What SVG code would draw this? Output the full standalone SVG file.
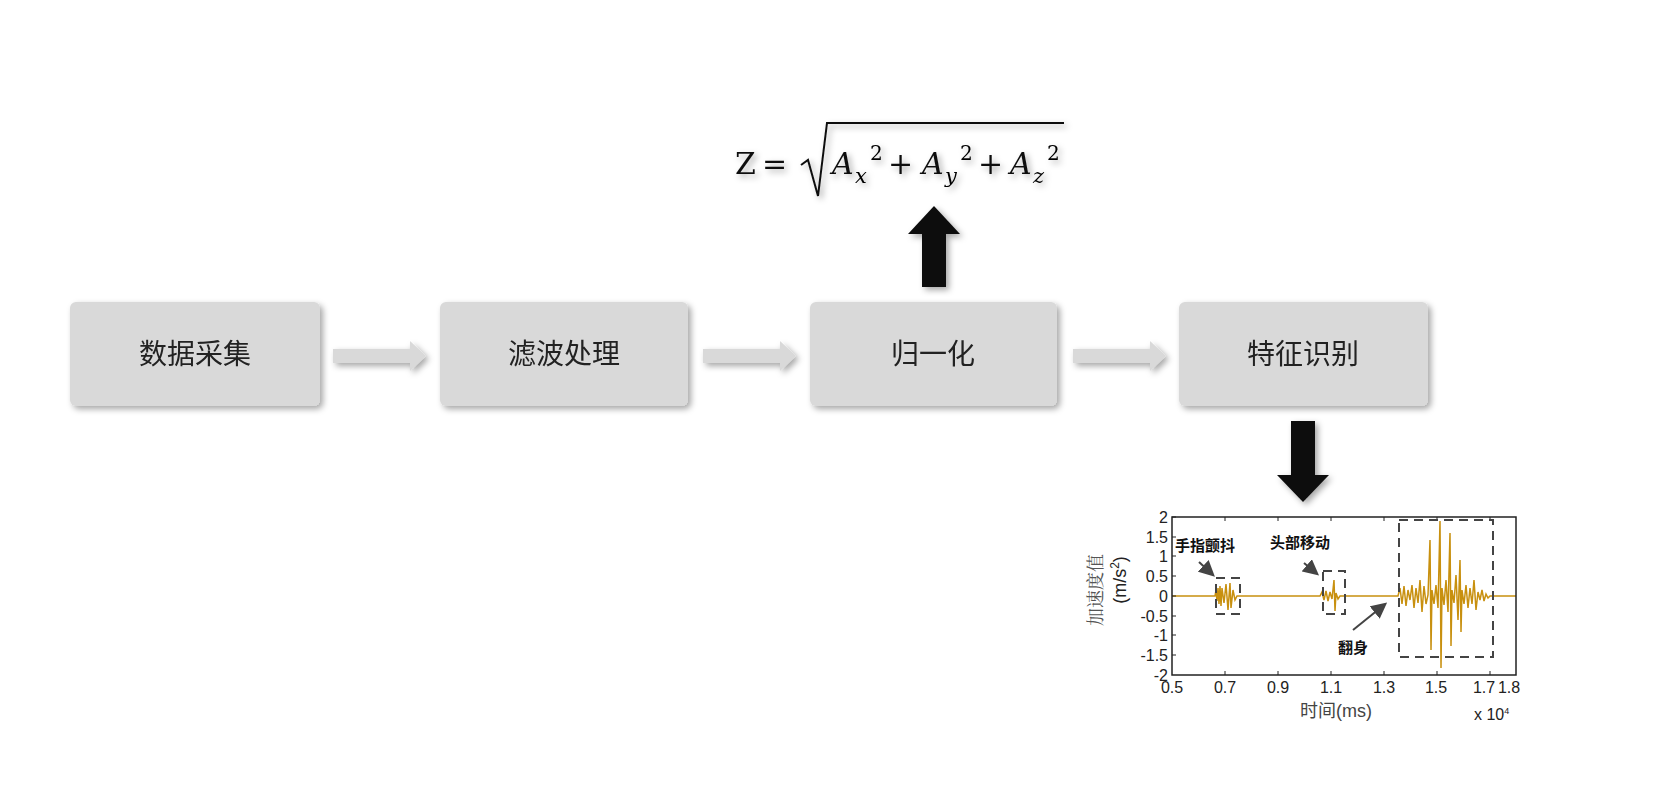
<svg xmlns="http://www.w3.org/2000/svg" width="1659" height="808" viewBox="0 0 1659 808">
<defs>
<style>
.box{fill:#d9d9d9}
.lbl{font-family:"Noto Sans CJK SC","Noto Sans",sans-serif;font-size:28px;fill:#222;text-anchor:middle}
.garrow{fill:#d9d9d9}
.tick{font-family:"Liberation Sans",Arial,sans-serif;font-size:16px;fill:#222}
.ann{font-family:"Noto Sans CJK SC",sans-serif;font-size:15px;font-weight:bold;fill:#111}
.dash{fill:none;stroke:#444;stroke-width:2;stroke-dasharray:9,6}
.sig{fill:none;stroke:#c8900f;stroke-width:1.5}
.math{font-family:"DejaVu Serif",serif;font-size:30px;fill:#111}
.it{font-style:italic}
.sup{font-size:20px}
.sub{font-size:21px;font-style:italic}
</style>
<filter id="sh" x="-10%" y="-10%" width="130%" height="140%"><feDropShadow dx="3" dy="3" stdDeviation="3" flood-color="#000" flood-opacity="0.35"/></filter>
<marker id="ah" markerWidth="8" markerHeight="8" refX="6" refY="4" orient="auto"><path d="M0,0 L8,4 L0,8 z" fill="#444"/></marker>
</defs>
<rect width="1659" height="808" fill="#fff"/>
<g id="n1" filter="url(#sh)"><rect class="box" x="70" y="302" width="250" height="104" rx="6"/><text class="lbl" x="195" y="364">数据采集</text></g>
<g id="n2" filter="url(#sh)"><rect class="box" x="440" y="302" width="248" height="104" rx="6"/><text class="lbl" x="564" y="364">滤波处理</text></g>
<g id="n3" filter="url(#sh)"><rect class="box" x="810" y="302" width="247" height="104" rx="6"/><text class="lbl" x="933" y="364">归一化</text></g>
<g id="n4" filter="url(#sh)"><rect class="box" x="1179" y="302" width="249" height="104" rx="6"/><text class="lbl" x="1303" y="364">特征识别</text></g>
<g id="connectors">
<g filter="url(#sh)">
<path class="garrow" d="M333,349 H410 V341 L426,356 L410,371 V363 H333 Z"/>
<path class="garrow" d="M703,349 H780 V341 L796,356 L780,371 V363 H703 Z"/>
<path class="garrow" d="M1073,349 H1150 V341 L1166,356 L1150,371 V363 H1073 Z"/>
<path fill="#111" d="M922,287 V234 H908 L934,206 L960,234 H946 V287 Z"/>
<path fill="#111" d="M1291,421 V475 H1277 L1303,502 L1329,475 H1315 V421 Z"/>
</g>
</g>
<g id="formula" filter="url(#sh)">
<text class="math" x="735" y="174">Z</text>
<text class="math" x="762" y="174">=</text>
<path d="M801,165 L808,160 L818,196 L827,123 H1064" fill="none" stroke="#111" stroke-width="2"/>
<text class="math it" x="832" y="174">A</text><text class="sub" x="855" y="183" font-family="DejaVu Serif,serif">x</text><text class="sup" x="870" y="160" font-family="DejaVu Serif,serif">2</text>
<text class="math" x="888" y="174">+</text>
<text class="math it" x="922" y="174">A</text><text class="sub" x="945" y="183" font-family="DejaVu Serif,serif">y</text><text class="sup" x="960" y="160" font-family="DejaVu Serif,serif">2</text>
<text class="math" x="978" y="174">+</text>
<text class="math it" x="1010" y="174">A</text><text class="sub" x="1033" y="183" font-family="DejaVu Serif,serif">z</text><text class="sup" x="1047" y="160" font-family="DejaVu Serif,serif">2</text>
</g>
<g id="chart">
<path class="sig" d="M1172,596 H1215 L1216,590 L1217,601 L1218,588 L1219,604 L1220,586 L1221,606 L1222,588 L1224,603 L1226,584 L1228,610 L1230,583 L1231,608 L1233,590 L1235,600 L1237,596 H1320 L1322,592 L1324,600 L1326,591 L1328,601 L1330,592 L1332,599 L1334,580 L1335,611 L1336,593 L1338,599 L1340,596 H1398 L1400,588 L1402,604 L1404,586 L1406,606 L1408,590 L1410,600 L1412,585 L1414,608 L1416,588 L1418,603 L1420,580 L1422,612 L1424,586 L1426,604 L1428,595 L1430,540 L1431,650 L1432,590 L1434,604 L1436,585 L1438,608 L1440,521 L1441,668 L1442,588 L1444,605 L1446,580 L1448,612 L1450,533 L1451,646 L1452,590 L1454,603 L1456,575 L1458,620 L1460,560 L1461,632 L1462,590 L1464,604 L1466,585 L1468,608 L1470,588 L1472,604 L1474,580 L1476,610 L1478,592 L1480,600 L1482,590 L1484,601 L1486,594 L1488,598 L1490,596 H1516"/>
<rect x="1172" y="517" width="344" height="158" fill="none" stroke="#222" stroke-width="1.5"/>
<g stroke="#222" stroke-width="1">
<path d="M1172,517 h4 M1172,537 h4 M1172,556 h4 M1172,576 h4 M1172,596 h4 M1172,616 h4 M1172,635 h4 M1172,655 h4"/>
<path d="M1225,675 v-4 M1278,675 v-4 M1331,675 v-4 M1384,675 v-4 M1437,675 v-4 M1490,675 v-4 M1225,517 v4 M1278,517 v4 M1331,517 v4 M1384,517 v4 M1437,517 v4 M1490,517 v4"/>
</g>
<g class="tick" text-anchor="end">
<text x="1168" y="523">2</text><text x="1168" y="543">1.5</text><text x="1168" y="562">1</text><text x="1168" y="582">0.5</text><text x="1168" y="602">0</text><text x="1168" y="622">-0.5</text><text x="1168" y="641">-1</text><text x="1168" y="661">-1.5</text><text x="1168" y="681">-2</text>
</g>
<g class="tick" text-anchor="middle">
<text x="1172" y="693">0.5</text><text x="1225" y="693">0.7</text><text x="1278" y="693">0.9</text><text x="1331" y="693">1.1</text><text x="1384" y="693">1.3</text><text x="1436" y="693">1.5</text><text x="1484" y="693">1.7</text><text x="1509" y="693">1.8</text>
</g>
<text class="tick" x="1474" y="720" font-size="13">x 10<tspan font-size="9" dy="-6">4</tspan></text>
<text x="1336" y="717" text-anchor="middle" font-family="Noto Sans CJK SC,sans-serif" font-size="18" fill="#444">时间<tspan font-family="Liberation Sans,sans-serif">(ms)</tspan></text>
<text transform="translate(1102,590) rotate(-90)" text-anchor="middle" font-family="Noto Serif CJK SC,Noto Sans CJK SC,serif" font-size="18" fill="#555">加速度值</text>
<text transform="translate(1126,580) rotate(-90)" text-anchor="middle" font-family="Liberation Sans,sans-serif" font-size="18" fill="#222">(m/s<tspan font-size="12" dy="-7">2</tspan><tspan dy="7">)</tspan></text>
<rect class="dash" x="1216" y="578" width="24" height="36"/>
<rect class="dash" x="1323" y="571" width="22" height="43"/>
<rect class="dash" x="1399" y="520" width="94" height="137"/>
<text class="ann" x="1175" y="551">手指颤抖</text>
<text class="ann" x="1270" y="548">头部移动</text>
<text class="ann" x="1338" y="653">翻身</text>
<path d="M1199,562 L1212,574" stroke="#444" stroke-width="2" marker-end="url(#ah)"/>
<path d="M1304,563 L1316,573" stroke="#444" stroke-width="2" marker-end="url(#ah)"/>
<path d="M1353,630 L1384,605" stroke="#444" stroke-width="2" marker-end="url(#ah)"/>
</g>
</svg>
